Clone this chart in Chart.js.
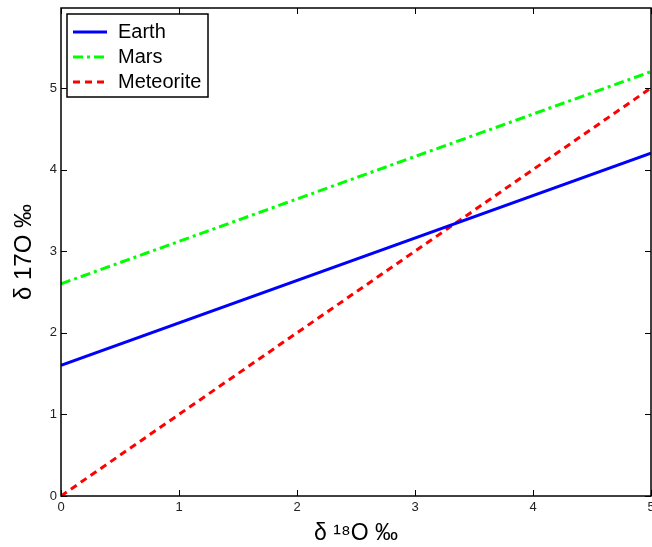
<!DOCTYPE html>
<html>
<head>
<meta charset="utf-8">
<script src="https://cdn.jsdelivr.net/npm/chart.js@4/dist/chart.umd.min.js"></script>
<style>
  html, body { margin: 0; padding: 0; background: #fff; }
  #wrap { width: 652px; height: 547px; }
</style>
</head>
<body>
<div id="wrap"><canvas id="c"></canvas></div>
<script>
// values
const xValues = [0, 5];
const earth = [1.6, 4.2];
const mars = [2.6, 5.2];
const meteorite = [0, 5];
const seriesNames = ["Earth", "Mars", "Meteorite"];
const xTicks = [0, 1, 2, 3, 4, 5];
const yTicks = [0, 1, 2, 3, 4, 5];

const FONT = "'Liberation Sans', Arial, sans-serif";

const toPoints = (ys) => xValues.map((x, i) => ({ x, y: ys[i] }));

// inward ticks on all four sides plus the box
const boxTicks = {
  id: "boxTicks",
  afterDatasetsDraw(chart) {
    const { ctx, chartArea: a, scales } = chart;
    ctx.save();
    ctx.strokeStyle = "#000";
    ctx.lineWidth = 1;
    const len = 6;
    ctx.beginPath();
    xTicks.forEach((v) => {
      const px = Math.round(scales.x.getPixelForValue(v)) + 0.5;
      ctx.moveTo(px, a.bottom); ctx.lineTo(px, a.bottom - len);
      ctx.moveTo(px, a.top); ctx.lineTo(px, a.top + len);
    });
    yTicks.forEach((v) => {
      const py = Math.round(scales.y.getPixelForValue(v)) + 0.5;
      ctx.moveTo(a.left, py); ctx.lineTo(a.left + len, py);
      ctx.moveTo(a.right, py); ctx.lineTo(a.right - len, py);
    });
    ctx.stroke();
    ctx.lineWidth = 1.5;
    ctx.strokeRect(a.left, a.top, a.right - a.left, a.bottom - a.top);
    ctx.restore();
  },
};

// legend box in the upper left corner of the plot
const boxLegend = {
  id: "boxLegend",
  afterDraw(chart) {
    const { ctx, chartArea: a } = chart;
    const x0 = a.left + 6, y0 = a.top + 6, w = 141, h = 83;
    ctx.save();
    ctx.fillStyle = "#fff";
    ctx.fillRect(x0, y0, w, h);
    ctx.strokeStyle = "#000";
    ctx.lineWidth = 1.5;
    ctx.strokeRect(x0, y0, w, h);
    ctx.font = "20px " + FONT;
    ctx.textBaseline = "middle";
    chart.data.datasets.forEach((ds, i) => {
      const cy = y0 + 18 + i * 25;
      ctx.strokeStyle = ds.borderColor;
      ctx.lineWidth = ds.borderWidth;
      ctx.setLineDash(ds.borderDash || []);
      ctx.beginPath();
      ctx.moveTo(x0 + 6, cy);
      ctx.lineTo(x0 + 40, cy);
      ctx.stroke();
      ctx.setLineDash([]);
      ctx.fillStyle = "#000";
      ctx.fillText(ds.label, x0 + 51, cy);
    });
    ctx.restore();
  },
};

new Chart(document.getElementById("c"), {
  type: "line",
  data: {
    datasets: [
      {
        label: seriesNames[0],
        data: toPoints(earth),
        borderColor: "#0000ff",
        borderWidth: 3,
      },
      {
        label: seriesNames[1],
        data: toPoints(mars),
        borderColor: "#00ff00",
        borderWidth: 3,
        borderDash: [10, 4, 3, 4],
      },
      {
        label: seriesNames[2],
        data: toPoints(meteorite),
        borderColor: "#ff0000",
        borderWidth: 3,
        borderDash: [7, 5],
      },
    ],
  },
  options: {
    responsive: true,
    maintainAspectRatio: false,
    animation: false,
    elements: { point: { radius: 0 }, line: { tension: 0 } },
    layout: { padding: { top: 8, right: 1, left: 0, bottom: 0 } },
    plugins: {
      legend: { display: false },
      tooltip: { enabled: false },
    },
    scales: {
      x: {
        type: "linear",
        min: 0,
        max: 5,
        afterBuildTicks: (s) => { s.ticks = xTicks.map((v) => ({ value: v })); },
        afterFit: (s) => { s.height = 51; s.paddingRight = 0; s.paddingLeft = 0; },
        grid: { display: false, drawTicks: false },
        border: { display: false },
        ticks: {
          color: "#222",
          font: { family: FONT, size: 13 },
          padding: 4,
          maxRotation: 0,
        },
        title: {
          display: true,
          text: "δ ¹⁸O ‰",
          color: "#000",
          font: { family: FONT, size: 23 },
          padding: { top: 2, bottom: 0 },
        },
      },
      y: {
        type: "linear",
        min: 0,
        max: 5.98,
        afterBuildTicks: (s) => { s.ticks = yTicks.map((v) => ({ value: v })); },
        afterFit: (s) => { s.width = 61; s.paddingTop = 0; s.paddingBottom = 0; },
        grid: { display: false, drawTicks: false },
        border: { display: false },
        ticks: {
          color: "#222",
          font: { family: FONT, size: 13 },
          padding: 4,
        },
        title: {
          display: true,
          text: "δ 17O ‰",
          color: "#000",
          font: { family: FONT, size: 24 },
          padding: { top: 10, bottom: 0 },
        },
      },
    },
  },
  plugins: [boxTicks, boxLegend],
});
</script>
</body>
</html>
